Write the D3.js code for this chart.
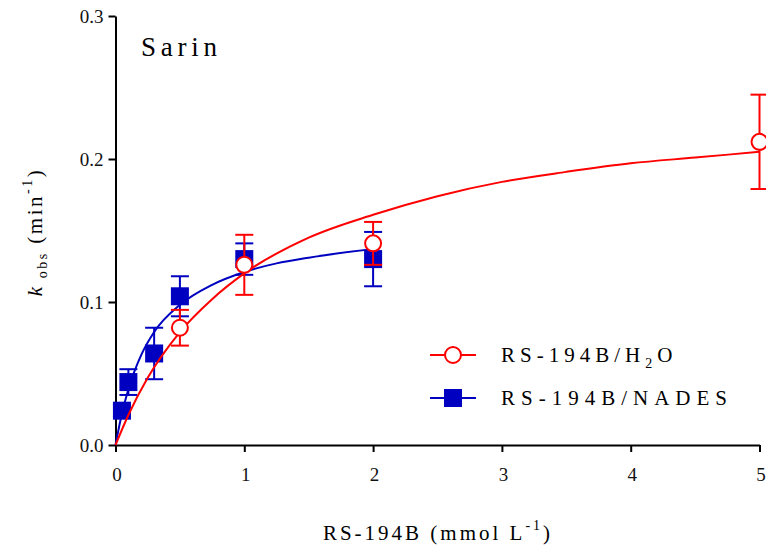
<!DOCTYPE html>
<html>
<head>
<meta charset="utf-8">
<script src="https://cdn.jsdelivr.net/npm/d3@7"></script>
</head>
<body style="margin:0">
<div id="chart"></div>
<script>
// measured points (mean, error)
const h2oX = [0.5, 1, 2, 5]
const h2oY = [0.082, 0.126, 0.141, 0.212]
const h2oErr = [0.0125, 0.021, 0.015, 0.033]

const nadesX = [0.05, 0.1, 0.3, 0.5, 1, 2]
const nadesY = [0.024, 0.044, 0.064, 0.104, 0.130, 0.130]
const nadesErr = [0.004, 0.009, 0.018, 0.014, 0.011, 0.019]

// fitted curves
const h2oFitX = [0, 0.1, 0.25, 0.5, 0.75, 1, 1.5, 2, 2.5, 3, 3.5, 4, 4.5, 5]
const h2oFitY = [0, 0.021, 0.047, 0.079, 0.102, 0.120, 0.145, 0.161, 0.174, 0.184, 0.191, 0.197, 0.201, 0.205]
const nadesFitX = [0, 0.05, 0.1, 0.2, 0.3, 0.5, 0.75, 1, 1.25, 1.5, 2]
const nadesFitY = [0, 0.022, 0.039, 0.063, 0.079, 0.098, 0.112, 0.121, 0.127, 0.131, 0.137]

const xTicks = [0, 1, 2, 3, 4, 5]
const yTicks = [0, 0.1, 0.2, 0.3]

const red = "#ff0000"
const blue = "#0000c0"
const serif = '"Liberation Serif"'

const svg = d3.select("#chart")
  .append("svg")
    .attr("width", 766)
    .attr("height", 550)
    .style("font-family", serif)

const x = d3.scaleLinear().domain([0, 5]).range([115.5, 759.5])
const y = d3.scaleLinear().domain([0, 0.3]).range([445, 16])

// axes
const xAxis = svg.append("g")
  .attr("transform", "translate(0,445)")
  .call(d3.axisBottom(x).tickValues(xTicks).tickFormat(d3.format("d")).tickSize(7).tickSizeOuter(0))
const yAxis = svg.append("g")
  .attr("transform", "translate(115.5,0)")
  .call(d3.axisLeft(y).tickValues(yTicks).tickFormat(d3.format(".1f")).tickSize(7).tickSizeOuter(0))

;[xAxis, yAxis].forEach(a => {
  a.attr("font-family", null).style("font-family", serif)
  a.select(".domain").attr("stroke", "#000").attr("stroke-width", 2)
  a.selectAll(".tick line").attr("stroke", "#000").attr("stroke-width", 2)
  a.selectAll(".tick text")
    .attr("fill", "#111")
    .style("font-family", serif)
    .style("font-size", "19px")
})
xAxis.selectAll(".tick text").attr("dy", "1.35em").attr("x", 1)
yAxis.selectAll(".tick text").attr("x", -12).attr("dy", "0.35em")

const line = d3.line()
  .x(d => x(d[0]))
  .y(d => y(d[1]))
  .curve(d3.curveMonotoneX)

const drawSeries = (fx, fy, px, py, pe, color, marker) => {
  svg.append("path")
    .datum(fx.map((v, i) => [v, fy[i]]))
    .attr("d", line)
    .attr("fill", "none")
    .attr("stroke", color)
    .attr("stroke-width", 2)

  const pts = px.map((v, i) => ({ x: v, y: py[i], e: pe[i] }))
  const g = svg.append("g")
    .selectAll("g")
    .data(pts)
    .join("g")
      .attr("transform", d => `translate(${x(d.x)},0)`)

  g.append("line")
    .attr("x1", 0).attr("x2", 0)
    .attr("y1", d => y(d.y + d.e))
    .attr("y2", d => y(d.y - d.e))
    .attr("stroke", color).attr("stroke-width", 2)
  ;["+", "-"].forEach(s => {
    g.append("line")
      .attr("x1", -9).attr("x2", 9)
      .attr("y1", d => y(s == "+" ? d.y + d.e : d.y - d.e))
      .attr("y2", d => y(s == "+" ? d.y + d.e : d.y - d.e))
      .attr("stroke", color).attr("stroke-width", 2)
  })

  if (marker == "circle") {
    g.append("circle")
      .attr("cy", d => y(d.y))
      .attr("r", 8)
      .attr("fill", "#fff")
      .attr("stroke", color)
      .attr("stroke-width", 2)
  } else {
    g.append("rect")
      .attr("x", -9)
      .attr("y", d => y(d.y) - 9)
      .attr("width", 18)
      .attr("height", 18)
      .attr("fill", color)
  }
}

drawSeries(nadesFitX, nadesFitY, nadesX, nadesY, nadesErr, blue, "square")
drawSeries(h2oFitX, h2oFitY, h2oX, h2oY, h2oErr, red, "circle")

// title
svg.append("text")
  .attr("x", 141).attr("y", 56)
  .attr("textLength", 76)
  .attr("lengthAdjust", "spacing")
  .style("font-family", serif)
  .style("font-size", "27px")
  .text("Sarin")

// legend
const legend = svg.append("g")
legend.append("line").attr("x1", 430).attr("x2", 476).attr("y1", 355).attr("y2", 355)
  .attr("stroke", red).attr("stroke-width", 2)
legend.append("circle").attr("cx", 453).attr("cy", 355).attr("r", 8)
  .attr("fill", "#fff").attr("stroke", red).attr("stroke-width", 2)
legend.append("line").attr("x1", 430).attr("x2", 476).attr("y1", 398).attr("y2", 398)
  .attr("stroke", blue).attr("stroke-width", 2)
legend.append("rect").attr("x", 444).attr("y", 389).attr("width", 18).attr("height", 18)
  .attr("fill", blue)

const t1 = legend.append("text")
  .attr("x", 501).attr("y", 362)
  .style("font-family", serif)
  .style("font-size", "21px")
  .style("letter-spacing", "5px")
t1.append("tspan").text("RS-194B/H")
t1.append("tspan").attr("dy", 6).style("font-size", "14px").text("2")
t1.append("tspan").attr("dy", -6).text("O")

legend.append("text")
  .attr("x", 501).attr("y", 405)
  .attr("textLength", 226)
  .attr("lengthAdjust", "spacing")
  .style("font-family", serif)
  .style("font-size", "21px")
  .text("RS-194B/NADES")

// x axis title
const xt = svg.append("text")
  .attr("x", 438).attr("y", 540)
  .attr("text-anchor", "middle")
  .style("font-family", serif)
  .style("font-size", "21px")
  .style("letter-spacing", "3px")
xt.append("tspan").text("RS-194B (mmol L")
xt.append("tspan").attr("dy", -10).style("font-size", "14px").text("-1")
xt.append("tspan").attr("dy", 10).text(")")

// y axis title
const yt = svg.append("text")
  .attr("transform", "translate(42,232) rotate(-90)")
  .attr("text-anchor", "middle")
  .style("font-family", serif)
  .style("font-size", "21px")
  .style("letter-spacing", "2.5px")
yt.append("tspan").style("font-style", "italic").text("k")
yt.append("tspan").attr("dy", 5).style("font-size", "14px").text(" obs")
yt.append("tspan").attr("dy", -5).text(" (min")
yt.append("tspan").attr("dy", -10).style("font-size", "14px").text("-1")
yt.append("tspan").attr("dy", 10).text(")")
</script>
</body>
</html>
